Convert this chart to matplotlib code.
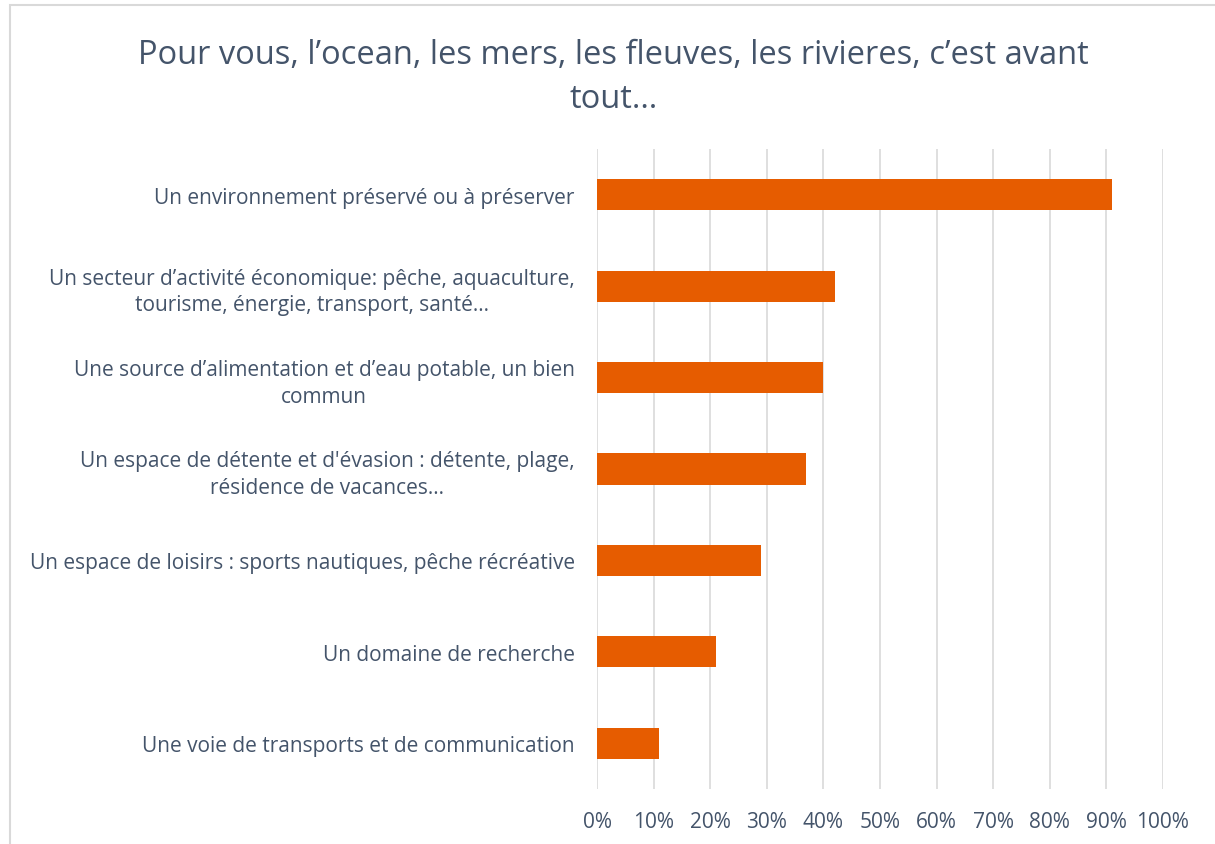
import matplotlib.pyplot as plt
from matplotlib.patches import Rectangle
from matplotlib.ticker import PercentFormatter

plt.rcParams['font.family'] = ['Open Sans', 'DejaVu Sans']

# Réponses (de haut en bas) et pourcentages
categories = [
    "Un environnement préservé ou à préserver",
    "Un secteur d’activité économique: pêche, aquaculture,\ntourisme, énergie, transport, santé…",
    "Une source d’alimentation et d’eau potable, un bien\ncommun",
    "Un espace de détente et d'évasion : détente, plage,\nrésidence de vacances…",
    "Un espace de loisirs : sports nautiques, pêche récréative",
    "Un domaine de recherche",
    "Une voie de transports et de communication",
]
valeurs = [91, 42, 40, 37, 29, 21, 11]
ticks_x = list(range(0, 101, 10))

texte = '#44546A'
orange = '#E65C00'

fig = plt.figure(figsize=(12.15, 8.45), dpi=100)
ax = fig.add_axes([597 / 1215, 1 - 790 / 845, 566 / 1215, 640 / 845])

pos = list(range(len(categories)))
ax.barh(pos, valeurs, height=0.34, color=orange, zorder=3)
ax.set_ylim(len(categories) - 0.5, -0.5)
ax.set_yticks(pos)
ax.set_yticklabels(categories, multialignment='center', fontsize=15, color=texte,
                   linespacing=1.35)
ax.set_xlim(0, 100)
ax.set_xticks(ticks_x)
ax.xaxis.set_major_formatter(PercentFormatter(decimals=0))
ax.tick_params(axis='x', length=0, pad=16, labelsize=15, labelcolor=texte)
ax.tick_params(axis='y', length=0, pad=16)
ax.grid(axis='x', color='#D9D9D9', linewidth=1.2, zorder=0)
for s in ax.spines.values():
    s.set_visible(False)

fig.text(0.505, 0.908, "Pour vous, l’ocean, les mers, les fleuves, les rivieres, c’est avant\ntout…",
         ha='center', va='center', fontsize=23.5, color=texte, linespacing=1.42)

# cadre du graphique
fig.patches.append(Rectangle((10 / 1215, -0.1), 1.2, 1 - 6 / 845 + 0.1, transform=fig.transFigure,
                             fill=False, edgecolor='#D9D9D9', linewidth=1.5))

fig.savefig('out.png', dpi=100)
